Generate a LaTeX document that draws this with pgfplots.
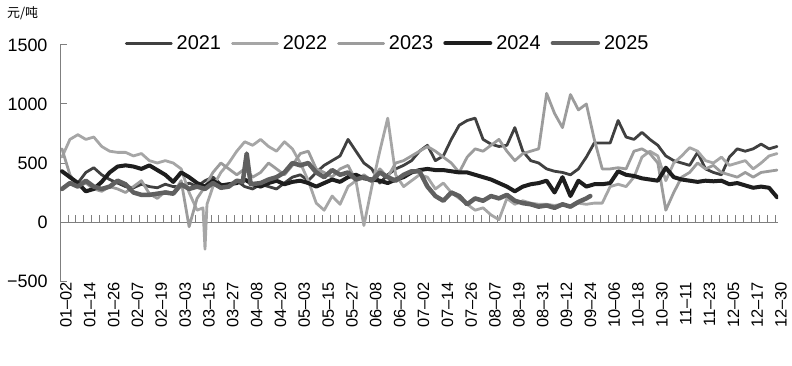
\documentclass[border=0pt]{standalone}
\usepackage{pgfplots}
\pgfplotsset{compat=1.18}
\usepackage{fontspec}
\setmainfont{Liberation Sans}
\newfontfamily\cjk{Noto Sans CJK SC}
\definecolor{cA}{HTML}{404040}
\definecolor{cB}{HTML}{A6A6A6}
\definecolor{cC}{HTML}{9C9C9C}
\definecolor{cD}{HTML}{1E1E1E}
\definecolor{cE}{HTML}{606060}
\definecolor{axg}{HTML}{7F7F7F}
\begin{document}
\begin{tikzpicture}[x=1bp,y=1bp]
\useasboundingbox (0,0) rectangle (792,365);
\node[anchor=west, inner sep=0pt, font=\cjk\fontsize{13}{13}\selectfont] at (7,352) {元/吨};
\begin{axis}[
  at={(60bp,84bp)}, anchor=south west, scale only axis,
  width=718bp, height=236bp,
  xmin=-1, xmax=360.5, ymin=-500, ymax=1500,
  axis x line*=bottom, axis y line*=left,
  x axis line style={draw=none},
  y axis line style={draw=axg, line width=1bp},
  xtick={0,12,...,360},
  xticklabels={01–02,01–14,01–26,02–07,02–19,03–03,03–15,03–27,04–08,04–20,05–03,05–15,05–27,06–08,06–20,07–02,07–14,07–26,08–07,08–19,08–31,09–12,09–24,10–06,10–18,10–30,11–11,11–23,12–05,12–17,12–30},
  x tick label style={rotate=90, anchor=east, font=\fontsize{16.5}{16.5}\selectfont, inner sep=1bp, yshift=-4bp},
  x tick style={draw=none},
  ytick={-500,0,500,1000,1500},
  yticklabels={−500,0,500,1000,1500},
  y tick label style={font=\fontsize{18}{18}\selectfont, xshift=-9bp},
  y tick style={draw=axg, line width=1bp},
  tick align=inside, major tick length=7bp,
  legend columns=5,
  legend style={draw=none, fill=none, at={(0.086,1.008)}, anchor=west,
    font=\fontsize{20}{20}\selectfont,
    nodes={inner xsep=4bp},
    /tikz/every even column/.append style={column sep=6bp}},
  legend image code/.code={\draw[#1] (0bp,0bp) -- (45bp,0bp);},
  every axis plot/.append style={line join=round, line cap=round},
]
\draw[axg, line width=1bp] (axis cs:-1,0) -- (axis cs:360.5,0);
\pgfplotsinvokeforeach{0,...,90}{\draw[axg, line width=0.8bp] (axis cs:{-1+4*#1},0) -- ++(0bp,7bp);}
% 2021
\addplot[cA, line width=2.8bp] coordinates {
(0,430)(4,380)(8,330)(12,420)(16,460)(20,400)(24,360)(28,330)(32,300)(36,290)(40,320)(44,300)(48,290)(52,320)(56,300)(60,300)(64,330)(68,300)(72,350)(76,380)(80,320)(84,300)(88,350)(92,300)(96,280)(100,320)(104,300)(108,280)(112,330)(116,380)(120,400)(124,350)(128,420)(132,480)(136,520)(140,560)(144,700)(148,600)(152,500)(156,450)(160,330)(164,400)(168,450)(172,480)(176,520)(180,600)(184,650)(188,520)(192,560)(196,700)(200,820)(204,860)(208,880)(212,700)(216,660)(220,640)(224,650)(228,800)(232,600)(236,520)(240,500)(244,450)(248,430)(252,420)(256,400)(260,450)(264,550)(268,670)(272,670)(276,670)(280,860)(284,720)(288,700)(292,760)(296,700)(300,650)(304,560)(308,520)(312,500)(316,480)(320,590)(324,450)(328,420)(332,400)(336,550)(340,620)(344,600)(348,620)(352,660)(356,620)(360,640)};
\addlegendentry{2021}
% 2022
\addplot[cB, line width=2.8bp] coordinates {
(0,550)(4,700)(8,740)(12,700)(16,720)(20,640)(24,600)(28,590)(32,590)(36,560)(40,580)(44,520)(48,500)(52,520)(56,500)(60,450)(64,250)(68,100)(71,120)(72,-230)(73,150)(76,300)(80,420)(84,500)(88,600)(92,680)(96,650)(100,700)(104,640)(108,600)(112,680)(116,620)(120,500)(124,350)(128,160)(132,100)(136,220)(140,150)(144,300)(148,350)(152,-30)(156,300)(160,600)(164,880)(168,400)(172,300)(176,350)(180,400)(184,380)(188,280)(192,330)(196,250)(200,200)(204,150)(208,100)(212,120)(216,60)(220,20)(224,200)(228,150)(232,180)(236,160)(240,150)(244,150)(248,140)(252,150)(256,130)(260,160)(264,150)(268,160)(272,160)(276,300)(280,320)(284,300)(288,380)(292,550)(296,600)(300,560)(304,350)(308,500)(312,560)(316,630)(320,600)(324,520)(328,500)(332,550)(336,480)(340,500)(344,520)(348,450)(352,500)(356,560)(360,580)};
\addlegendentry{2022}
% 2023
\addplot[cC, line width=2.8bp] coordinates {
(0,620)(4,400)(8,300)(12,330)(16,280)(20,260)(24,300)(28,280)(32,250)(36,300)(40,350)(44,240)(48,200)(52,260)(56,240)(60,350)(64,-40)(68,200)(72,300)(76,420)(80,500)(84,450)(88,400)(92,450)(96,380)(100,420)(104,500)(108,450)(112,400)(116,480)(120,580)(124,600)(128,450)(132,420)(136,380)(140,450)(144,480)(148,350)(152,400)(156,350)(160,450)(164,380)(168,500)(172,520)(176,560)(180,600)(184,640)(188,600)(192,550)(196,500)(200,420)(204,550)(208,620)(212,600)(216,650)(220,700)(224,600)(228,520)(232,580)(236,600)(240,620)(244,1090)(248,920)(252,800)(256,1080)(260,950)(264,1000)(268,700)(272,450)(276,450)(280,460)(284,450)(288,600)(292,620)(296,580)(300,500)(304,100)(308,250)(312,380)(316,420)(320,500)(324,450)(328,480)(332,420)(336,400)(340,380)(344,420)(348,380)(352,420)(356,430)(360,440)};
\addlegendentry{2023}
% 2024
\addplot[cD, line width=4bp] coordinates {
(0,430)(4,380)(8,330)(12,260)(16,280)(20,340)(24,420)(28,470)(32,480)(36,470)(40,450)(44,480)(48,440)(52,400)(56,340)(60,420)(64,380)(68,330)(72,300)(76,350)(80,310)(84,320)(88,330)(92,360)(96,320)(100,300)(104,330)(108,350)(112,320)(116,340)(120,350)(124,330)(128,300)(132,330)(136,360)(140,340)(144,380)(148,400)(152,370)(156,360)(160,350)(164,330)(168,360)(172,380)(176,420)(180,440)(184,450)(188,440)(192,440)(196,430)(200,420)(204,420)(208,400)(212,380)(216,360)(220,330)(224,300)(228,260)(232,300)(236,320)(240,330)(244,350)(248,250)(252,380)(256,220)(260,350)(264,300)(268,320)(272,320)(276,330)(280,430)(284,400)(288,390)(292,370)(296,360)(300,350)(304,460)(308,380)(312,360)(316,350)(320,340)(324,350)(328,345)(332,350)(336,320)(340,330)(344,310)(348,290)(352,300)(356,290)(360,210)};
\addlegendentry{2024}
% 2025
\addplot[cE, line width=4.5bp] coordinates {
(0,280)(4,330)(8,300)(12,350)(16,300)(20,280)(24,300)(28,350)(32,320)(36,250)(40,230)(44,230)(48,240)(52,250)(56,240)(60,320)(64,280)(68,300)(72,280)(76,330)(80,290)(84,300)(88,350)(91,340)(93,580)(95,320)(100,330)(104,360)(108,380)(112,420)(116,500)(120,480)(124,500)(128,420)(132,380)(136,440)(140,400)(144,420)(148,360)(152,380)(156,350)(160,420)(164,380)(168,350)(172,400)(176,430)(180,430)(184,300)(188,220)(192,180)(196,250)(200,220)(204,150)(208,200)(212,180)(216,220)(220,200)(224,230)(228,180)(232,160)(236,150)(240,130)(244,140)(248,120)(252,150)(256,130)(260,170)(264,200)(266,220)};
\addlegendentry{2025}
\end{axis}
\end{tikzpicture}
\end{document}
